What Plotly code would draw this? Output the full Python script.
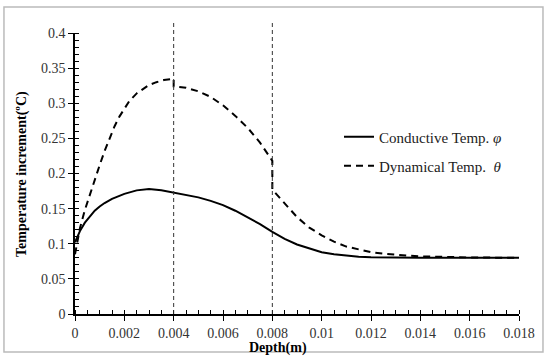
import plotly.graph_objects as go

# ---- data ----
depth_cond = [0, 0.0002, 0.0004, 0.0006, 0.0008, 0.001, 0.0012, 0.0015, 0.002, 0.0025, 0.003,
              0.0035, 0.004, 0.0045, 0.005, 0.0055, 0.006, 0.0065, 0.007, 0.0075, 0.008,
              0.0085, 0.009, 0.0095, 0.010, 0.0105, 0.011, 0.0115, 0.012, 0.013, 0.014,
              0.016, 0.018]
temp_cond = [0.102, 0.118, 0.130, 0.139, 0.147, 0.153, 0.158, 0.164, 0.171, 0.176, 0.178,
             0.176, 0.173, 0.170, 0.166, 0.161, 0.155, 0.147, 0.138, 0.128, 0.117,
             0.107, 0.099, 0.093, 0.088, 0.085, 0.083, 0.0815, 0.0808, 0.080, 0.080,
             0.080, 0.080]

depth_dyn = [0, 0.0002, 0.0004, 0.0006, 0.0008, 0.001, 0.0012, 0.0014, 0.0016, 0.0018, 0.002,
             0.0022, 0.0025, 0.0028, 0.003, 0.0033, 0.0036, 0.004,
             0.004, 0.0045, 0.005, 0.0055, 0.006, 0.0065, 0.007, 0.0075, 0.008,
             0.008, 0.0085, 0.009, 0.0095, 0.010, 0.0105, 0.011, 0.0115, 0.012, 0.0125,
             0.013, 0.0135, 0.014, 0.015, 0.016, 0.018]
temp_dyn = [0.085, 0.122, 0.148, 0.170, 0.191, 0.212, 0.232, 0.251, 0.267, 0.281, 0.293,
            0.303, 0.314, 0.322, 0.326, 0.330, 0.333, 0.335,
            0.324, 0.322, 0.317, 0.309, 0.297, 0.282, 0.265, 0.244, 0.218,
            0.177, 0.157, 0.138, 0.123, 0.112, 0.103, 0.096, 0.092, 0.088, 0.086,
            0.084, 0.083, 0.082, 0.081, 0.0805, 0.080]

x_ticks = [0, 0.002, 0.004, 0.006, 0.008, 0.010, 0.012, 0.014, 0.016, 0.018]
x_labels = ["0", "0.002", "0.004", "0.006", "0.008", "0.01", "0.012", "0.014", "0.016", "0.018"]
y_ticks = [0, 0.05, 0.1, 0.15, 0.2, 0.25, 0.3, 0.35, 0.4]
y_labels = ["0", "0.05", "0.1", "0.15", "0.2", "0.25", "0.3", "0.35", "0.4"]
marker_depths = [0.004, 0.008]

FONT = "Liberation Serif, Times New Roman, serif"

fig = go.Figure()
fig.add_trace(go.Scatter(x=depth_cond, y=temp_cond, mode="lines",
                         name="Conductive Temp. <i>φ</i>",
                         line=dict(color="black", width=2), legend="legend"))
fig.add_trace(go.Scatter(x=depth_dyn, y=temp_dyn, mode="lines",
                         name="Dynamical Temp.  <i>θ</i>",
                         line=dict(color="black", width=2, dash="7px,5px"), legend="legend2"))

for d in marker_depths:
    fig.add_shape(type="line", xref="x", yref="paper", x0=d, x1=d, y0=0, y1=1.046,
                  line=dict(color="#333", width=1, dash="4px,3px"), layer="above")

# outer frame
fig.add_shape(type="rect", xref="paper", yref="paper", x0=-0.160, x1=1.054, y0=-0.135, y1=1.0925,
              line=dict(color="#bbbbbb", width=1.5), layer="below")

axis_common = dict(showgrid=False, zeroline=False, showline=True, linecolor="black", linewidth=1.5,
                   ticks="outside", ticklen=5, tickwidth=1.2, tickcolor="black",
                   tickfont=dict(family=FONT, size=14, color="#333"))

fig.update_xaxes(range=[0, 0.018], tickvals=x_ticks, ticktext=x_labels,
                 minor=dict(dtick=0.0005, ticks="inside", ticklen=4, tickcolor="black", tickwidth=1),
                 ticklabelstandoff=0, **axis_common)
fig.update_yaxes(range=[0, 0.4], tickvals=y_ticks, ticktext=y_labels,
                 minor=dict(dtick=0.01, ticks="inside", ticklen=4, tickcolor="black", tickwidth=1),
                 **axis_common)

fig.add_annotation(text="<b>Depth(m)</b>", xref="paper", yref="paper",
                   x=(278 - 75) / 444, y=(314 - 348) / 281, xanchor="center", yanchor="middle",
                   showarrow=False, font=dict(family=FONT, size=14, color="black"))
fig.add_annotation(text="<b>Temperature increment(ºC)</b>", xref="paper", yref="paper",
                   x=(22 - 75) / 444, y=(314 - 174) / 281, textangle=-90,
                   xanchor="center", yanchor="middle",
                   showarrow=False, font=dict(family=FONT, size=14, color="black"))

leg = dict(font=dict(family=FONT, size=15, color="#222"), bgcolor="rgba(0,0,0,0)",
           xanchor="left", yanchor="middle", itemwidth=30)
fig.update_layout(
    width=550, height=359,
    margin=dict(l=75, r=31, t=33, b=45),
    paper_bgcolor="white", plot_bgcolor="white",
    legend=dict(x=(339 - 75) / 444, y=(314 - 137) / 281, **leg),
    legend2=dict(x=(339 - 75) / 444, y=(314 - 166) / 281, **leg),
    showlegend=True,
)

fig.write_html("out.html", config={"displayModeBar": False},
               post_script="document.body.style.margin='0';")
